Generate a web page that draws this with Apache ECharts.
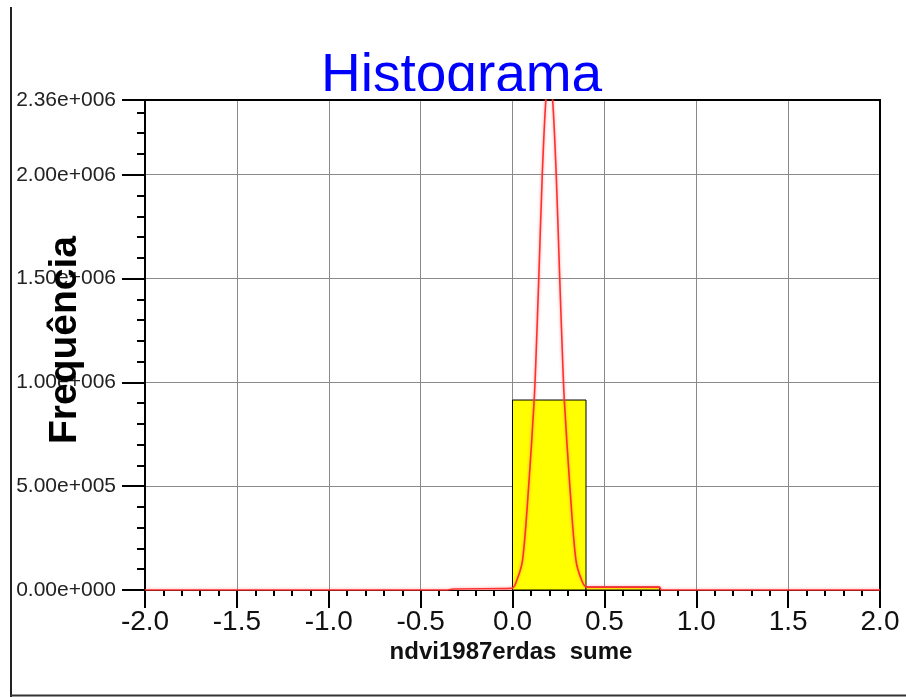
<!DOCTYPE html>
<html>
<head>
<meta charset="utf-8">
<script src="https://cdn.jsdelivr.net/npm/echarts@6/dist/echarts.min.js"></script>
<style>
html,body{margin:0;padding:0;background:#fff;}
#chart{width:906px;height:697px;}
</style>
</head>
<body>
<div id="chart"></div>
<script>
// ---- data ----
var binStart = [-2.0, -1.6, -1.2, -0.8, -0.4, 0.0, 0.4, 0.8, 1.2, 1.6];
var binEnd   = [-1.6, -1.2, -0.8, -0.4, 0.0, 0.4, 0.8, 1.2, 1.6, 2.0];
var binCount = [0, 0, 0, 0, 0, 915000, 14000, 0, 0, 0];

var curveX = [-2.0, -0.36, -0.32, -0.004, 0.024, 0.055, 0.088, 0.118, 0.127, 0.143, 0.162, 0.1815, 0.2,
              0.2185, 0.238, 0.257, 0.273, 0.282, 0.312, 0.345, 0.376, 0.404, 0.8, 0.81, 2.0];
var curveY = [0, 0, 5000, 8000, 48000, 145000, 500000, 915000, 1100000, 1500000, 2000000, 2360000, 2500000,
              2360000, 2000000, 1500000, 1100000, 915000, 500000, 145000, 48000, 14000, 14000, 0, 0];

var xTicks = [-2.0, -1.5, -1.0, -0.5, 0.0, 0.5, 1.0, 1.5, 2.0];
var yTicks = [0, 500000, 1000000, 1500000, 2000000, 2360000];

var titleText = 'Histograma';
var xName = 'ndvi1987erdas  sume';
var yName = 'Frequência';

// ---- chart ----
var barData = binStart.map(function (s, i) { return [s, binEnd[i], binCount[i]]; });
var lineData = curveX.map(function (x, i) { return [x, curveY[i]]; });

function expFmt(v) {
  var s = Number(v).toExponential(2);
  var m = s.match(/^(-?[\d.]+)e([+-])(\d+)$/);
  var e = m[3];
  while (e.length < 3) e = '0' + e;
  return m[1] + 'e' + m[2] + e;
}

var chart = echarts.init(document.getElementById('chart'), null, {renderer: 'canvas'});
var FONT = '"Liberation Sans", Arial, sans-serif';

chart.setOption({
  animation: false,
  backgroundColor: '#ffffff',
  title: {
    text: titleText,
    left: 316,
    top: 44,
    z: 6,
    textStyle: {color: '#0000ff', fontSize: 55, fontWeight: 'normal', fontFamily: FONT}
  },
  grid: {left: 145, right: 26, top: 100, bottom: 107, containLabel: false},
  xAxis: [{
    type: 'value',
    z: 10,
    min: xTicks[0], max: xTicks[xTicks.length - 1], interval: 0.5,
    position: 'bottom',
    axisLine: {show: true, onZero: false, lineStyle: {color: '#000', width: 1}},
    axisTick: {show: true, length: 18, lineStyle: {color: '#000', width: 2}},
    minorTick: {show: true, splitNumber: 5, length: 6, lineStyle: {color: '#000', width: 2}},
    axisLabel: {
      margin: 18, fontSize: 28, color: '#111', fontFamily: FONT,
      formatter: function (v) { return Number(v).toFixed(1); }
    },
    splitLine: {show: true, lineStyle: {color: '#8a8a8a', width: 1}}
  }, {
    type: 'value',
    z: 10,
    min: xTicks[0], max: xTicks[xTicks.length - 1],
    position: 'top',
    axisLine: {show: true, onZero: false, lineStyle: {color: '#000', width: 2}},
    axisTick: {show: false}, axisLabel: {show: false}, splitLine: {show: false}
  }],
  yAxis: [{
    type: 'value',
    z: 10,
    min: yTicks[0], max: yTicks[yTicks.length - 1], interval: 500000,
    position: 'left',
    axisLine: {show: true, onZero: false, lineStyle: {color: '#000', width: 2}},
    axisTick: {show: true, length: 23, lineStyle: {color: '#000', width: 2}},
    axisLabel: {margin: 29, fontSize: 21, color: '#222', fontFamily: FONT, formatter: expFmt},
    splitLine: {show: true, lineStyle: {color: '#8a8a8a', width: 1}}
  }, {
    type: 'value',
    z: 10,
    min: yTicks[0], max: yTicks[yTicks.length - 1], interval: 100000,
    position: 'left',
    axisLine: {show: false, onZero: false},
    axisTick: {show: true, length: 8, lineStyle: {color: '#000', width: 2}},
    axisLabel: {show: false}, splitLine: {show: false}
  }, {
    type: 'value',
    z: 10,
    min: yTicks[0], max: yTicks[yTicks.length - 1],
    position: 'right',
    axisLine: {show: true, onZero: false, lineStyle: {color: '#000', width: 2}},
    axisTick: {show: false}, axisLabel: {show: false}, splitLine: {show: false}
  }],
  series: [{
    type: 'custom',
    xAxisIndex: 0, yAxisIndex: 0,
    data: barData,
    encode: {x: [0, 1], y: 2},
    renderItem: function (params, api) {
      var s = api.value(0), e = api.value(1), c = api.value(2);
      if (!c) return null;
      var p0 = api.coord([s, c]);
      var p1 = api.coord([e, 0]);
      return {
        type: 'rect',
        shape: {x: p0[0], y: p0[1], width: p1[0] - p0[0], height: p1[1] - p0[1]},
        style: {fill: '#ffff00', stroke: '#000', lineWidth: 1}
      };
    },
    z: 12
  }, {
    type: 'line',
    xAxisIndex: 0, yAxisIndex: 0,
    data: lineData,
    showSymbol: false,
    smooth: 0.3,
    clip: true,
    lineStyle: {color: '#ff3030', width: 1.6, shadowColor: 'rgba(255,80,80,0.6)', shadowBlur: 3},
    z: 13
  }],
  graphic: [
    {type: 'rect', z: 8, shape: {x: 300, y: 91, width: 330, height: 14}, style: {fill: '#fff'}},
    {type: 'text', z: 100, x: 65, y: 340, rotation: Math.PI / 2,
     style: {text: yName, font: 'bold 39px ' + FONT, fill: '#000', textAlign: 'center', textVerticalAlign: 'middle'}},
    {type: 'text', z: 100, x: 511, y: 652,
     style: {text: xName, font: 'bold 24px ' + FONT, fill: '#111', textAlign: 'center', textVerticalAlign: 'middle'}},
    {type: 'line', z: 100, shape: {x1: 11, y1: 7, x2: 11, y2: 697}, style: {stroke: '#222', lineWidth: 2}},
    {type: 'line', z: 100, shape: {x1: 10, y1: 695.5, x2: 906, y2: 695.5}, style: {stroke: '#333', lineWidth: 2}}
  ]
});
</script>
</body>
</html>
